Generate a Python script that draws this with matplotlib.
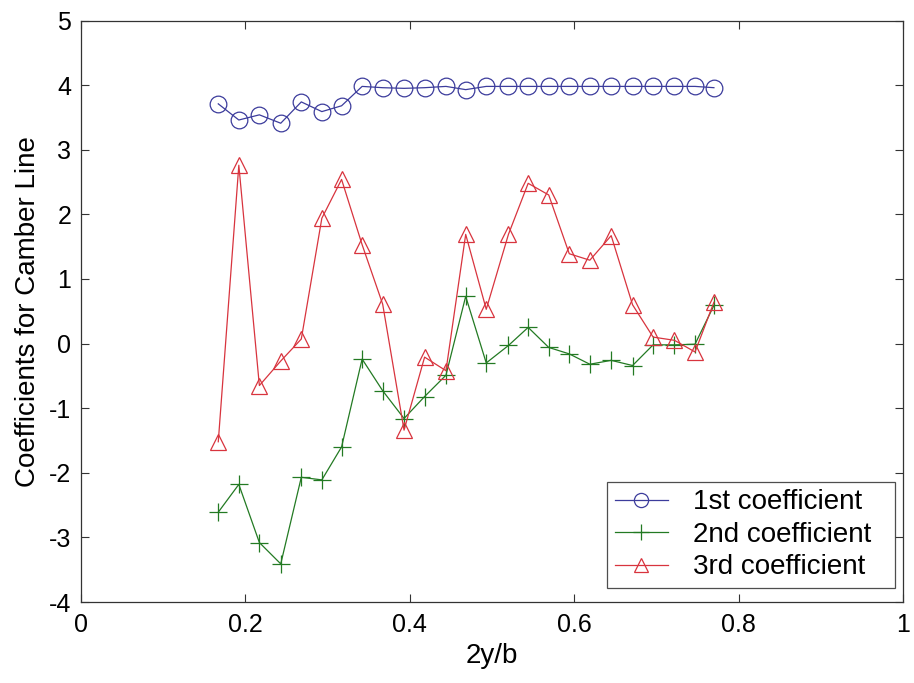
import matplotlib
matplotlib.use("Agg")
import matplotlib.pyplot as plt

plt.rcParams['font.family'] = ['Liberation Sans', 'DejaVu Sans']
plt.rcParams['axes.unicode_minus'] = False

span = [0.167, 0.192, 0.217, 0.243, 0.268, 0.293, 0.317, 0.342, 0.367, 0.393,
        0.418, 0.444, 0.468, 0.493, 0.520, 0.544, 0.569, 0.594, 0.619, 0.645,
        0.671, 0.696, 0.722, 0.747, 0.770]

coef1 = [3.71, 3.46, 3.54, 3.41, 3.74, 3.59, 3.68, 3.98, 3.96, 3.95,
         3.96, 3.98, 3.93, 3.98, 3.98, 3.98, 3.98, 3.98, 3.98, 3.98,
         3.98, 3.98, 3.98, 3.98, 3.96]

coef2 = [-2.61, -2.18, -3.08, -3.41, -2.07, -2.11, -1.60, -0.24, -0.73, -1.16,
         -0.82, -0.49, 0.73, -0.30, -0.03, 0.25, -0.06, -0.16, -0.32, -0.26,
         -0.34, -0.02, -0.02, -0.01, 0.59]

coef3 = [-1.52, 2.76, -0.65, -0.27, 0.07, 1.94, 2.54, 1.53, 0.61, -1.34,
         -0.21, -0.42, 1.69, 0.53, 1.69, 2.48, 2.30, 1.39, 1.29, 1.67,
         0.60, 0.10, 0.05, -0.13, 0.64]

labels = ['1st coefficient', '2nd coefficient', '3rd coefficient']
xticks = [0, 0.2, 0.4, 0.6, 0.8, 1]
xticklabels = ['0', '0.2', '0.4', '0.6', '0.8', '1']
yticks = [-4, -3, -2, -1, 0, 1, 2, 3, 4, 5]

fig = plt.figure(figsize=(9.14, 6.83), dpi=100)
ax = fig.add_axes([81/914, 1 - 602/683, (903 - 81)/914, (602 - 20.5)/683])

blue = '#3c3c9c'
green = '#237a23'
red = '#d8343e'

ax.plot(span, coef1, color=blue, lw=0.9, marker='o', ms=12, mfc='none',
        mec=blue, mew=0.9, label=labels[0])
ax.plot(span, coef2, color=green, lw=0.9, marker='+', ms=13, mec=green,
        mew=0.9, label=labels[1])
ax.plot(span, coef3, color=red, lw=0.9, marker='^', ms=12, mfc='none',
        mec=red, mew=0.9, label=labels[2])

ax.set_xlim(0, 1)
ax.set_ylim(-4, 5)
ax.set_xticks(xticks)
ax.set_xticklabels(xticklabels)
ax.set_yticks(yticks)
ax.tick_params(direction='in', length=6, width=0.8, color='#333333',
               labelsize=18, top=True, right=True)
ax.tick_params(axis='y', pad=7)
ax.tick_params(axis='x', pad=8)
for s in ax.spines.values():
    s.set_color('#333333')
    s.set_linewidth(0.9)

ax.set_xlabel('2y/b', fontsize=20, labelpad=4)
ax.set_ylabel('Coefficients for Camber Line', fontsize=20, labelpad=6)

leg = ax.legend(loc='lower left', bbox_to_anchor=(0.640, 0.024, 0.350, 0.2),
                mode='expand', fontsize=20, frameon=True, fancybox=False,
                edgecolor='#222222', handlelength=1.9, handletextpad=0.9,
                labelspacing=0.23, borderpad=0.28, borderaxespad=0,
                markerscale=0.85)
leg.get_frame().set_linewidth(0.9)

fig.savefig('out.png', dpi=100, facecolor='white')
